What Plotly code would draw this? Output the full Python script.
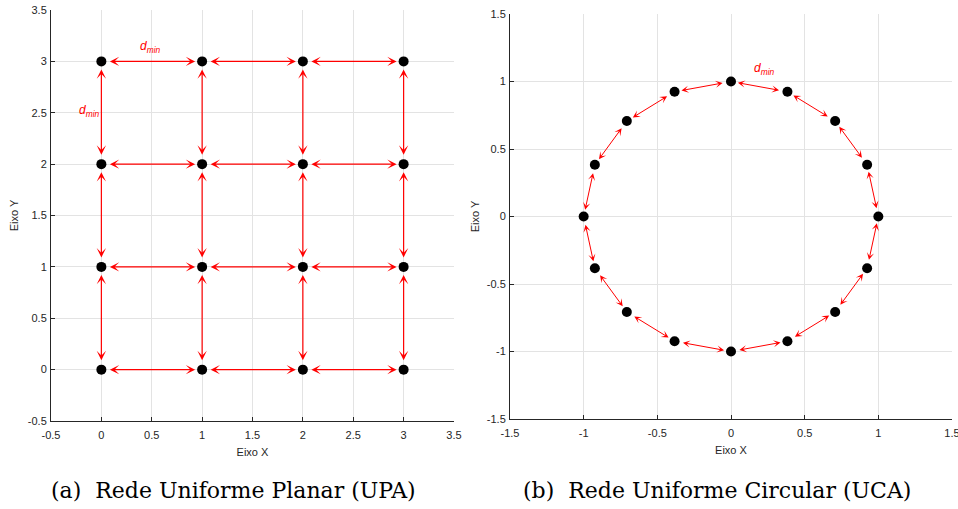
import plotly.graph_objects as go

# --- Uniform planar array (4 x 4 grid) ---
upa_x = [0, 1, 2, 3]
upa_y = [0, 1, 2, 3]

# --- Uniform circular array (16 elements on the unit circle) ---
uca_x = [1.000, 0.924, 0.707, 0.383, 0.000, -0.383, -0.707, -0.924,
         -1.000, -0.924, -0.707, -0.383, 0.000, 0.383, 0.707, 0.924]
uca_y = [0.000, 0.383, 0.707, 0.924, 1.000, 0.924, 0.707, 0.383,
         0.000, -0.383, -0.707, -0.924, -1.000, -0.924, -0.707, -0.383]

# Tick values / labels
upa_ticks = [-0.5, 0, 0.5, 1, 1.5, 2, 2.5, 3, 3.5]
upa_ticktext = ["-0.5", "0", "0.5", "1", "1.5", "2", "2.5", "3", "3.5"]
uca_ticks = [-1.5, -1, -0.5, 0, 0.5, 1, 1.5]
uca_ticktext = ["-1.5", "-1", "-0.5", "0", "0.5", "1", "1.5"]

RED = "#ff0000"
AX_COL = "#262626"
GRID_COL = "#e3e3e3"
TICK_FONT = dict(family="Liberation Sans, Arial, sans-serif", size=11, color=AX_COL)

fig = go.Figure()

# Element markers
gx = [x for y in upa_y for x in upa_x]
gy = [y for y in upa_y for x in upa_x]
fig.add_trace(go.Scatter(x=gx, y=gy, mode="markers", xaxis="x", yaxis="y",
                         marker=dict(color="black", size=10), showlegend=False))
fig.add_trace(go.Scatter(x=uca_x, y=uca_y, mode="markers", xaxis="x2", yaxis="y2",
                         marker=dict(color="black", size=10), showlegend=False))

annotations = []


def dbl_arrow(x0, y0, x1, y1, xr, yr, width, size, stand):
    return dict(x=x1, y=y1, ax=x0, ay=y0, xref=xr, yref=yr, axref=xr, ayref=yr,
                text="", showarrow=True, arrowhead=3, startarrowhead=3,
                arrowside="end+start", arrowcolor=RED, arrowwidth=width,
                arrowsize=size, startarrowsize=size,
                standoff=stand, startstandoff=stand)


# Nearest-neighbour spacing arrows on the planar grid
for y in upa_y:
    for a, b in zip(upa_x[:-1], upa_x[1:]):
        annotations.append(dbl_arrow(a, y, b, y, "x", "y", 1.2, 1.3, 7))
for x in upa_x:
    for a, b in zip(upa_y[:-1], upa_y[1:]):
        annotations.append(dbl_arrow(x, a, x, b, "x", "y", 1.2, 1.3, 8))

# Nearest-neighbour spacing arrows around the circle
n = len(uca_x)
for i in range(n):
    j = (i + 1) % n
    annotations.append(dbl_arrow(uca_x[i], uca_y[i], uca_x[j], uca_y[j],
                                 "x2", "y2", 1.0, 1.2, 7))

# d_min labels
dmin = "<i>d</i><sub><i>min</i></sub>"
for xr, yr, x, y in [("x", "y", 0.49, 3.14), ("x", "y", -0.12, 2.52),
                     ("x2", "y2", 0.23, 1.09)]:
    annotations.append(dict(x=x, y=y, xref=xr, yref=yr, text=dmin, showarrow=False,
                            xanchor="center", yanchor="middle",
                            font=dict(family="Liberation Sans, Arial, sans-serif",
                                      size=12, color=RED)))

# Sub-figure captions
cap_font = dict(family="DejaVu Serif, Liberation Serif, serif", size=22, color="black")
for cx, txt in [(233, "(a)  Rede Uniforme Planar (UPA)"),
                (717, "(b)  Rede Uniforme Circular (UCA)")]:
    annotations.append(dict(x=cx / 958, y=1 - 490 / 509, xref="paper", yref="paper",
                            xanchor="center", yanchor="middle",
                            text=txt, showarrow=False, font=cap_font))


def axis(domain, rng, tv, tt, title, anchor, standoff, lab_off):
    return dict(domain=domain, range=rng, tickvals=tv, ticktext=tt,
                showgrid=True, gridcolor=GRID_COL, gridwidth=1,
                zeroline=False, showline=True, linecolor=AX_COL, linewidth=1,
                ticks="inside", ticklen=4, tickcolor=AX_COL, tickfont=TICK_FONT,
                ticklabeloverflow="allow", ticklabelstandoff=lab_off,
                title=dict(text=title, font=TICK_FONT, standoff=standoff),
                anchor=anchor, fixedrange=True, automargin=False)


fig.update_layout(
    width=958, height=509,
    margin=dict(l=0, r=0, t=0, b=0),
    paper_bgcolor="white", plot_bgcolor="white",
    showlegend=False,
    xaxis=axis([51 / 958, 454 / 958], [-0.5, 3.5], upa_ticks, upa_ticktext, "Eixo X", "y", 8, 4),
    yaxis=axis([1 - 421 / 509, 1 - 10 / 509], [-0.5, 3.5], upa_ticks, upa_ticktext, "Eixo Y", "x", 6, 1),
    xaxis2=axis([510 / 958, 952 / 958], [-1.5, 1.5], uca_ticks, uca_ticktext, "Eixo X", "y2", 8, 4),
    yaxis2=axis([1 - 419 / 509, 1 - 14 / 509], [-1.5, 1.5], uca_ticks, uca_ticktext, "Eixo Y", "x2", 4, 1),
    annotations=annotations,
)

fig.write_html("out.html")
